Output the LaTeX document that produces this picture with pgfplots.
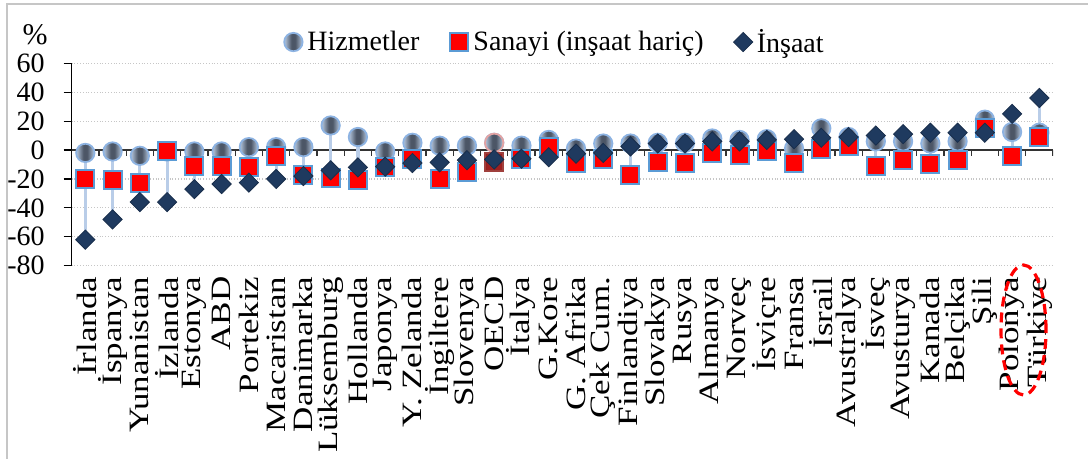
\documentclass[border=0pt]{standalone}
\usepackage{pgfplots}
\pgfplotsset{compat=1.18}
\usepackage{pgfplotstable}
\usepackage{fontspec}
\setmainfont{Liberation Serif}
\definecolor{circout}{HTML}{8DB3E2}
\definecolor{ca}{HTML}{D5E1F0}
\definecolor{cb}{HTML}{A7B8CE}
\definecolor{cc}{HTML}{4C5666}
\definecolor{sqout}{HTML}{5B9BD5}
\definecolor{sa}{HTML}{A00000}
\definecolor{sb}{HTML}{FF0000}
\definecolor{dia}{HTML}{1F3A5F}
\definecolor{hilo}{HTML}{B9CDE8}
\definecolor{oa}{HTML}{5A0F0F}
\definecolor{ob}{HTML}{9E2020}
\definecolor{oecdout}{HTML}{A0403D}
\definecolor{oecdcirc}{HTML}{E3A3A3}

\pgfdeclarehorizontalshading{cyl}{100bp}{color(0bp)=(ca); color(28bp)=(cb); color(45bp)=(cc); color(55bp)=(cc); color(72bp)=(cb); color(100bp)=(ca)}
\pgfdeclarehorizontalshading{sqsh}{100bp}{color(0bp)=(sa); color(30bp)=(sb); color(70bp)=(sb); color(100bp)=(sa)}
\pgfdeclarehorizontalshading{osqsh}{100bp}{color(0bp)=(oa); color(30bp)=(ob); color(70bp)=(ob); color(100bp)=(oa)}
\pgfdeclareplotmark{cylball}{\pgfpathcircle{\pgfpointorigin}{\pgfplotmarksize}\pgfshadepath{cyl}{0}\pgfusepath{stroke}}
\pgfdeclareplotmark{redsq}{\pgfpathrectangle{\pgfpoint{-\pgfplotmarksize}{-\pgfplotmarksize}}{\pgfpoint{2\pgfplotmarksize}{2\pgfplotmarksize}}\pgfshadepath{sqsh}{0}\pgfusepath{stroke}}
\pgfdeclareplotmark{oecdsq}{\pgfpathrectangle{\pgfpoint{-\pgfplotmarksize}{-\pgfplotmarksize}}{\pgfpoint{2\pgfplotmarksize}{2\pgfplotmarksize}}\pgfshadepath{osqsh}{0}\pgfusepath{stroke}}

\pgfplotstableread{
x h s c
0 -2 -20 -62
1 -1 -21 -48
2 -4 -23 -36
3 -1 -1 -36
4 -1 -11 -27
5 -1 -11 -23.5
6 2 -12 -22.5
7 2 -4 -20
8 2 -17 -18
9 17 -19 -14
10 9 -21 -12
11 -1 -12 -11.5
12 5 -6 -9
13 3 -20 -8.5
14 3 -15 -7
15 5 -8 -6.5
16 3 -6.5 -6
17 7 2 -5
18 1 -9 -2.5
19 4.5 -6 -2
20 4.5 -17 2.5
21 5 -8 4.5
22 5 -9 4.5
23 8 -2 6
24 7 -3.5 6
25 7.5 -1 7
26 1 -9 7.5
27 15 1 8.5
28 9 3 9
29 6 -11 10
30 6 -7 11
31 4.5 -10 12
32 6 -7 12
33 21 15 12
34 12.5 -4 25
35 12 9 36
}\data

\pgfplotstableread{
x h s c
15 5 -8 -6.5
}\oecd

\begin{document}
\begin{tikzpicture}
\useasboundingbox (0,0) rectangle (544pt,229.5pt);
\draw[gray!45, line width=1pt] (3.5pt,0) -- (3.5pt,227.5pt) -- (544pt,227.5pt);
\begin{axis}[
  scale only axis,
  width=490.65pt, height=101.2pt,
  at={(35.85pt,96.65pt)}, anchor=south west,
  xmin=-0.5, xmax=35.5, ymin=-80, ymax=60,
  axis lines*=left,
  x axis line style={draw=none},
  y axis line style={black, line width=0.6pt},
  ytick={-80,-60,...,60},
  tick align=outside,
  major tick length=4pt,
  ytick style={black, line width=0.6pt},
  yticklabel style={font=\fontsize{14}{15}\selectfont, xshift=-6pt},
  /pgf/number format/assume math mode=true,
  ymajorgrids,
  grid style={densely dotted, gray!45, line width=0.6pt},
  xtick={0,...,35},
  xtick style={draw=none},
  xticklabels={İrlanda,İspanya,Yunanistan,İzlanda,Estonya,ABD,Portekiz,Macaristan,Danimarka,Lüksemburg,Hollanda,Japonya,Y. Zelanda,İngiltere,Slovenya,OECD,İtalya,G.Kore,G. Afrika,Çek Cum.,Finlandiya,Slovakya,Rusya,Almanya,Norveç,İsviçre,Fransa,İsrail,Avustralya,İsveç,Avusturya,Kanada,Belçika,Şili,Polonya,Türkiye},
  xticklabel style={rotate=90, xscale=1.25, anchor=east, font=\fontsize{14}{15}\selectfont, inner sep=1pt},
  legend columns=3,
  legend style={at={(0.493,1.105)}, anchor=center, draw=none, fill=none,
    font=\fontsize{14}{15}\selectfont,
    /tikz/every even column/.append style={column sep=13pt}},
  legend cell align=left,
]
\draw[black!80, line width=0.8pt] (axis cs:-0.5,0) -- (axis cs:35.5,0);
\pgfplotsinvokeforeach{-0.5,0.5,...,35.5}{
  \draw[black!80, line width=0.6pt] (axis cs:#1,0) -- ++(0pt,-3pt);
}
\addplot[forget plot, draw=none, mark=none,
  error bars/.cd, y dir=plus, y explicit, error mark=none,
  error bar style={draw=hilo, line width=1.6pt}]
  table[x=x, y expr={min(\thisrow{h},\thisrow{s},\thisrow{c})},
        y error plus expr={max(\thisrow{h},\thisrow{s},\thisrow{c})-min(\thisrow{h},\thisrow{s},\thisrow{c})}] {\data};
\addplot[only marks, mark=cylball, mark size=4.6pt, mark options={draw=circout, line width=0.9pt}] table[x=x, y=h] {\data};
\addlegendentry{Hizmetler}
\addplot[forget plot, only marks, mark=cylball, mark size=4.6pt, mark options={draw=oecdcirc, line width=0.9pt}] table[x=x, y=h] {\oecd};
\addplot[only marks, mark=redsq, mark size=4.5pt, mark options={draw=sqout, line width=1pt}] table[x=x, y=s] {\data};
\addlegendentry{Sanayi (inşaat hariç)}
\addplot[forget plot, only marks, mark=oecdsq, mark size=4.5pt, mark options={draw=oecdout, line width=1pt}] table[x=x, y=s] {\oecd};
\addplot[only marks, mark=square*, mark size=3.4pt, mark options={rotate=45, fill=dia, draw=dia!80!black, line width=0.4pt}] table[x=x, y=c] {\data};
\addlegendentry{İnşaat}
\end{axis}
\node[font=\fontsize{15}{16}\selectfont, inner sep=0pt] at (17.5pt,212pt) {\%};
\draw[red, line width=1.6pt, dash pattern=on 5pt off 3pt] (511.75pt,64.5pt) ellipse [x radius=11.25pt, y radius=32.5pt];
\end{tikzpicture}
\end{document}
